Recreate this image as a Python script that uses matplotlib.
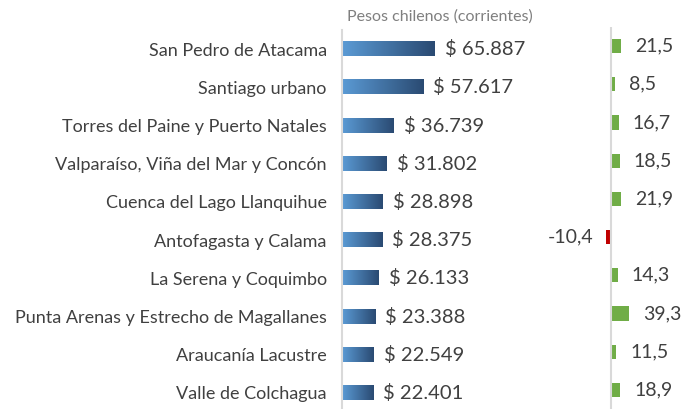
import numpy as np
import matplotlib
matplotlib.use("Agg")
import matplotlib.pyplot as plt
from matplotlib.colors import LinearSegmentedColormap

# data
destinos = ["San Pedro de Atacama", "Santiago urbano", "Torres del Paine y Puerto Natales",
            "Valparaíso, Viña del Mar y Concón", "Cuenca del Lago Llanquihue",
            "Antofagasta y Calama", "La Serena y Coquimbo",
            "Punta Arenas y Estrecho de Magallanes", "Araucanía Lacustre", "Valle de Colchagua"]
gasto = [65887, 57617, 36739, 31802, 28898, 28375, 26133, 23388, 22549, 22401]
variacion = [21.5, 8.5, 16.7, 18.5, 21.9, -10.4, 14.3, 39.3, 11.5, 18.9]

plt.rcParams['font.family'] = ['Lato', 'DejaVu Sans']
txt = '#404040'
W, H = 683, 409
fig = plt.figure(figsize=(W / 100, H / 100), dpi=100)

y = np.arange(len(destinos))
bh = 0.37

# left panel: gasto
ax1 = fig.add_axes([342 / W, 0, 200 / W, 379 / H])
grad = LinearSegmentedColormap.from_list('g', ['#5B9BD5', '#2A4A72'])
bars = ax1.barh(y, gasto, height=bh, color='none')
g = np.linspace(0, 1, 256).reshape(1, -1)
for b in bars:
    x0, y0 = b.get_x(), b.get_y()
    ax1.imshow(g, cmap=grad, aspect='auto', interpolation='bicubic',
               extent=[x0, x0 + b.get_width(), y0 + b.get_height(), y0], zorder=2)
ax1.set_xlim(0, 200 * 65887 / 93)
ax1.set_ylim(9.42, -0.5)
for yi, v in zip(y, gasto):
    ax1.text(v + 7000, yi, "$ " + f"{v:,}".replace(",", "."), va='center', ha='left',
             fontsize=14.5, color=txt)
ax1.set_yticks(y)
ax1.set_yticklabels(destinos, fontsize=13, color=txt)
ax1.tick_params(axis='y', length=0, pad=11)
ax1.set_xticks([])
for s in ['top', 'right', 'bottom']:
    ax1.spines[s].set_visible(False)
ax1.spines['left'].set_color('#D9D9D9')
ax1.spines['left'].set_linewidth(1.5)
ax1.patch.set_alpha(0)
fig.text(440 / W, 1 - 17 / H, "Pesos chilenos (corrientes)", ha='center', va='center',
         fontsize=11.5, color='#7F7F7F')

# right panel: variacion
ax2 = fig.add_axes([540 / W, 0, 143 / W, 382 / H])
ax2.set_xlim(-71 / 0.47, 72 / 0.47)
ax2.set_ylim(9.42 + 3 / 38.2, -0.5)
cols = ['#C00000' if v < 0 else '#70AD47' for v in variacion]
ax2.barh(y, variacion, height=bh, color=cols)
ax2.axvline(0, color='#D9D9D9', lw=1.5)
for yi, v in zip(y, variacion):
    lab = f"{v:.1f}".replace(".", ",")
    if v < 0:
        ax2.text(v - 28, yi, lab, va='center', ha='right', fontsize=14, color=txt)
    else:
        ax2.text(v + 30, yi, lab, va='center', ha='left', fontsize=14, color=txt)
ax2.axis('off')

fig.savefig("out.png", dpi=100)
